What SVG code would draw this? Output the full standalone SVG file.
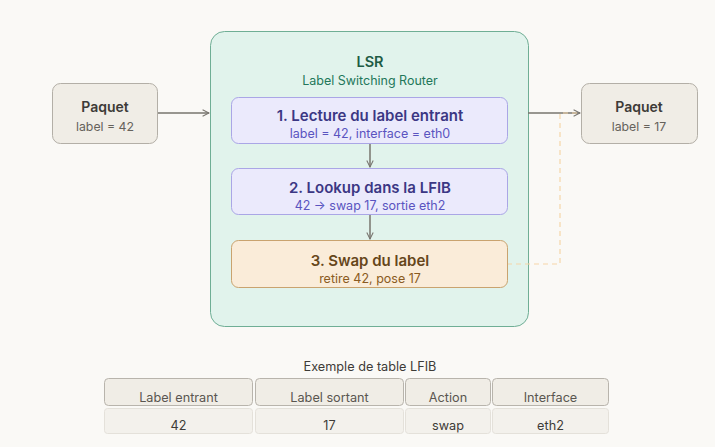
<svg xmlns="http://www.w3.org/2000/svg" width="715" height="447" viewBox="0 0 715 447">
<defs>
<style>
text{font-family:Inter,"Noto Sans","Liberation Sans",sans-serif;text-anchor:middle}
.pk{fill:#f0ede6;stroke:#b3afa7;stroke-width:1}
.pt{font-size:14px;font-weight:600;fill:#3d3b37}
.ps{font-size:12.3px;fill:#66625b}
.bl{fill:#ebeafc;stroke:#aaa6e6;stroke-width:1}
.blt{font-size:15px;font-weight:600;fill:#3b3784}
.bls{font-size:12.5px;fill:#5a54c0}
.or{fill:#faecd9;stroke:#c9a36f;stroke-width:1}
.ort{font-size:15px;font-weight:600;fill:#66461a}
.ors{font-size:12.5px;fill:#8a5b22}
.th{fill:#f0ede6;stroke:#b8b4ac;stroke-width:1}
.td{fill:#f3f1ec;stroke:#e4e1da;stroke-width:1}
.tt{font-size:12.7px;fill:#5a5650}
.tv{font-size:12.7px;fill:#3d3b37}
.ar{fill:none;stroke:#77746e;stroke-width:1.5}
</style>
<marker id="ah" viewBox="0 0 10 10" refX="9" refY="5" markerWidth="8" markerHeight="8" markerUnits="userSpaceOnUse" orient="auto">
<path d="M1,1 L9,5 L1,9" fill="none" stroke="#77746e" stroke-width="1.3"/>
</marker>
</defs>
<rect width="715" height="447" fill="#faf9f6"/>
<g id="lsr">
<rect x="210.5" y="31.5" width="318" height="295" rx="14" fill="#e1f3ec" stroke="#6fae95"/>
<text x="370" y="67" font-size="14.5" font-weight="600" fill="#1f5c45">LSR</text>
<text x="370" y="84.5" font-size="12.5" fill="#23775a">Label Switching Router</text>
</g>
<g id="connectors">
<line class="ar" x1="157" y1="113" x2="209" y2="113" marker-end="url(#ah)"/>
<line class="ar" x1="528" y1="113" x2="580" y2="113" marker-end="url(#ah)"/>
<line class="ar" x1="370" y1="143" x2="370" y2="167" marker-end="url(#ah)"/>
<line class="ar" x1="370" y1="215" x2="370" y2="239" marker-end="url(#ah)"/>
<polyline points="507,264 560,264 560,113 578,113" fill="none" stroke="#f5d6a8" stroke-width="1.2" stroke-dasharray="5,4"/>
</g>
<g id="paquet-in">
<rect class="pk" x="52.5" y="83.5" width="105" height="60" rx="8"/>
<text class="pt" x="105" y="112">Paquet</text>
<text class="ps" x="105" y="131">label = 42</text>
</g>
<g id="paquet-out">
<rect class="pk" x="581.5" y="83.5" width="116" height="60" rx="8"/>
<text class="pt" x="639" y="112">Paquet</text>
<text class="ps" x="639" y="131">label = 17</text>
</g>
<g id="step1">
<rect class="bl" x="231.5" y="97.5" width="276" height="46" rx="7"/>
<text class="blt" x="370" y="120.5">1. Lecture du label entrant</text>
<text class="bls" x="370" y="137.5">label = 42, interface = eth0</text>
</g>
<g id="step2">
<rect class="bl" x="231.5" y="168.5" width="276" height="46" rx="7"/>
<text class="blt" x="370" y="192.5">2. Lookup dans la LFIB</text>
<text class="bls" x="370" y="209.5">42 → swap 17, sortie eth2</text>
</g>
<g id="step3">
<rect class="or" x="231.5" y="240.5" width="276" height="47" rx="7"/>
<text class="ort" x="370" y="265.5">3. Swap du label</text>
<text class="ors" x="370" y="282.5">retire 42, pose 17</text>
</g>
<g id="table">
<text x="370" y="371" font-size="12.7" fill="#3d3b37">Exemple de table LFIB</text>
<rect class="th" x="104.5" y="378.5" width="148" height="27" rx="4"/>
<rect class="th" x="255.5" y="378.5" width="148" height="27" rx="4"/>
<rect class="th" x="405.5" y="378.5" width="85" height="27" rx="4"/>
<rect class="th" x="492.5" y="378.5" width="116" height="27" rx="4"/>
<text class="tt" x="178.5" y="401.5">Label entrant</text>
<text class="tt" x="329.5" y="401.5">Label sortant</text>
<text class="tt" x="448" y="401.5">Action</text>
<text class="tt" x="550.5" y="401.5">Interface</text>
<rect class="td" x="104.5" y="408.5" width="148" height="25" rx="3"/>
<rect class="td" x="255.5" y="408.5" width="148" height="25" rx="3"/>
<rect class="td" x="405.5" y="408.5" width="85" height="25" rx="3"/>
<rect class="td" x="492.5" y="408.5" width="116" height="25" rx="3"/>
<text class="tv" x="178.5" y="429.5">42</text>
<text class="tv" x="329.5" y="429.5">17</text>
<text class="tv" x="448" y="429.5">swap</text>
<text class="tv" x="550.5" y="429.5">eth2</text>
</g>
</svg>
